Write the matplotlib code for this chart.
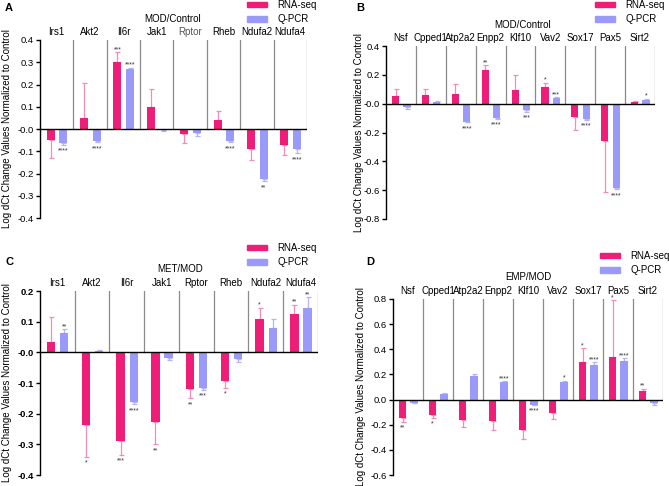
import numpy as np
import matplotlib
matplotlib.use("Agg")
from matplotlib import pyplot as plt

plt.rcParams['font.family'] = ['Liberation Sans', 'DejaVu Sans']

# gene lists
genes_a = ["Irs1", "Akt2", "Il6r", "Jak1", "Rptor", "Rheb", "Ndufa2", "Ndufa4"]
genes_b = ["Nsf", "Cpped1", "Atp2a2", "Enpp2", "Klf10", "Vav2", "Sox17", "Pax5", "Sirt2"]

# panel A: MOD/Control
rna_a = [-0.05, 0.05, 0.30, 0.10, -0.022, 0.04, -0.09, -0.07]
rna_a_err = [0.08, 0.155, 0.045, 0.08, 0.043, 0.042, 0.05, 0.045]
qpcr_a = [-0.065, -0.055, 0.27, -0.005, -0.02, -0.055, -0.225, -0.088]
qpcr_a_err = [0.005, 0.005, 0.005, 0.002, 0.01, 0.005, 0.01, 0.022]
rna_a_sig = ['', '', '***', '', '', '', '', '']
qpcr_a_sig = ['****', '****', '****', '', '', '****', '**', '****']

# panel B: MOD/Control
rna_b = [0.055, 0.06, 0.07, 0.235, 0.095, 0.115, -0.09, -0.26, 0.01]
rna_b_err = [0.045, 0.04, 0.065, 0.03, 0.105, 0.03, 0.09, 0.35, 0.01]
qpcr_b = [-0.025, 0.01, -0.125, -0.10, -0.045, 0.04, -0.105, -0.585, 0.025]
qpcr_b_err = [0.01, 0.01, 0.005, 0.005, 0.01, 0.005, 0.01, 0.01, 0.01]
rna_b_sig = ['', '', '', '**', '', '*', '', '', '']
qpcr_b_sig = ['', '', '****', '****', '***', '***', '****', '****', '*']

# panel C: MET/MOD
rna_c = [0.033, -0.237, -0.29, -0.228, -0.12, -0.092, 0.11, 0.124]
rna_c_err = [0.082, 0.103, 0.045, 0.072, 0.03, 0.023, 0.035, 0.031]
qpcr_c = [0.063, 0.003, -0.162, -0.018, -0.115, -0.022, 0.08, 0.143]
qpcr_c_err = [0.012, 0.005, 0.008, 0.007, 0.008, 0.01, 0.03, 0.037]
rna_c_sig = ['', '*', '***', '**', '**', '*', '*', '**']
qpcr_c_sig = ['**', '', '****', '', '***', '', '', '**']

# panel D: EMP/MOD
rna_d = [-0.15, -0.125, -0.165, -0.17, -0.24, -0.105, 0.30, 0.34, 0.07]
rna_d_err = [0.025, 0.02, 0.055, 0.075, 0.07, 0.05, 0.11, 0.45, 0.015]
qpcr_d = [-0.025, 0.045, 0.19, 0.14, -0.04, 0.14, 0.275, 0.31, -0.025]
qpcr_d_err = [0.005, 0.01, 0.01, 0.005, 0.005, 0.01, 0.02, 0.02, 0.015]
rna_d_sig = ['**', '*', '', '', '', '', '*', '*', '**']
qpcr_d_sig = ['', '', '', '****', '****', '*', '****', '****', '']

pink = '#EE1E78'
pink_err = '#F28DBA'
blue = '#9A9AFA'
blue_err = '#B4B4FA'

fig = plt.figure(figsize=(6.69, 4.86), dpi=100)


def panel(rect, letter, title, genes, rna, rna_err, qpcr, qpcr_err, rna_sig, qpcr_sig,
          ylim, yticks, bold_ticks, title_xy, legend_xy, letter_xy, ylab_x):
    ax = fig.add_axes(rect)
    n = len(genes)
    x = np.arange(n)
    offs = [(0.32, rna, rna_err, pink, pink_err, rna_sig),
            (0.70, qpcr, qpcr_err, blue, blue_err, qpcr_sig)]
    span = ylim[1] - ylim[0]
    for off, vals, errs, col, ecol, sig in offs:
        vals = np.array(vals)
        errs = np.array(errs)
        ax.bar(x + off, vals, width=0.24, color=col, zorder=3)
        lower = np.where(vals < 0, errs, 0)
        upper = np.where(vals >= 0, errs, 0)
        ax.errorbar(x + off, vals, yerr=[lower, upper], fmt='none', ecolor=ecol,
                    elinewidth=0.9, capsize=1.8, capthick=0.9, zorder=2)
        for i in range(n):
            if sig[i] == '':
                continue
            if vals[i] >= 0:
                ax.text(x[i] + off, vals[i] + errs[i] - 0.005 * span, sig[i], ha='center',
                        va='bottom', fontsize=5, color='#333333')
            else:
                ax.text(x[i] + off, vals[i] - errs[i] - 0.015 * span, sig[i], ha='center',
                        va='top', fontsize=5, color='#333333')
    # group dividers from top to zero line
    for i in range(1, n + 1):
        ax.plot([i, i], [0, ylim[1]], color='#8a8a8a', lw=0.9, zorder=1)
    ax.axhline(0, color='black', lw=1.0, zorder=4)
    for i, g in enumerate(genes):
        col = '#555555' if (g == 'Rptor' and letter == 'A') else 'black'
        ax.text(i + 0.5, ylim[1] + 0.015 * span, g, ha='center', va='bottom',
                fontsize=7, color=col)
    ax.set_xlim(0, n)
    ax.set_ylim(*ylim)
    ax.set_yticks(yticks)
    ax.set_yticklabels(['{:.1f}'.format(t) for t in yticks], fontsize=6.8,
                       fontweight='bold' if bold_ticks else 'normal')
    ax.set_xticks([])
    for s in ['top', 'right', 'bottom']:
        ax.spines[s].set_visible(False)
    ax.spines['left'].set_linewidth(1.0)
    ax.tick_params(axis='y', length=3, width=1.0, pad=1.5)
    ax.patch.set_alpha(0)

    fig.text(letter_xy[0], letter_xy[1], letter, fontsize=8, fontweight='bold',
             ha='left', va='center')
    fig.text(title_xy[0], title_xy[1], title, fontsize=7, ha='center', va='center')
    fig.text(ylab_x, rect[1] + rect[3] / 2, 'Log dCt Change Values Normalized to Control',
             rotation=90, fontsize=7, ha='center', va='center')
    # legend
    h1 = plt.Rectangle((0, 0), 1, 1, color=pink)
    h2 = plt.Rectangle((0, 0), 1, 1, color=blue)
    fig.legend([h1, h2], ['RNA-seq', 'Q-PCR'], loc='upper left',
               bbox_to_anchor=legend_xy, frameon=False, fontsize=7,
               handlelength=2.1, handleheight=0.55, handletextpad=1.0,
               labelspacing=0.45, borderpad=0, borderaxespad=0)
    return ax


panel([0.0598, 0.5514, 0.399, 0.3663], 'A', 'MOD/Control', genes_a,
      rna_a, rna_a_err, qpcr_a, qpcr_a_err, rna_a_sig, qpcr_a_sig,
      (-0.4, 0.4), np.round(np.arange(-0.4, 0.41, 0.1), 1), False,
      (173 / 669, 1 - 19 / 486), (247 / 669, 1 - 0 / 486), (5 / 669, 1 - 8 / 486), 7 / 669)

panel([0.577, 0.5494, 0.402, 0.3559], 'B', 'MOD/Control', genes_b,
      rna_b, rna_b_err, qpcr_b, qpcr_b_err, rna_b_sig, qpcr_b_sig,
      (-0.8, 0.4), np.round(np.arange(-0.8, 0.41, 0.2), 1), False,
      (523 / 669, 1 - 25 / 486), (595 / 669, 1 - 0 / 486), (356 / 669, 1 - 8 / 486), 359 / 669)

panel([0.0598, 0.0226, 0.4155, 0.3786], 'C', 'MET/MOD', genes_a,
      rna_c, rna_c_err, qpcr_c, qpcr_c_err, rna_c_sig, qpcr_c_sig,
      (-0.4, 0.2), np.round(np.arange(-0.4, 0.21, 0.1), 1), True,
      (180 / 669, 1 - 269 / 486), (247 / 669, 1 - 243 / 486), (5 / 669, 1 - 262 / 486), 7 / 669)

panel([0.5874, 0.0226, 0.4036, 0.3622], 'D', 'EMP/MOD', genes_b,
      rna_d, rna_d_err, qpcr_d, qpcr_d_err, rna_d_sig, qpcr_d_sig,
      (-0.6, 0.8), np.round(np.arange(-0.6, 0.81, 0.2), 1), False,
      (528 / 669, 1 - 277 / 486), (600 / 669, 1 - 251 / 486), (366 / 669, 1 - 262 / 486), 361 / 669)

fig.savefig('out.png', dpi=100)
